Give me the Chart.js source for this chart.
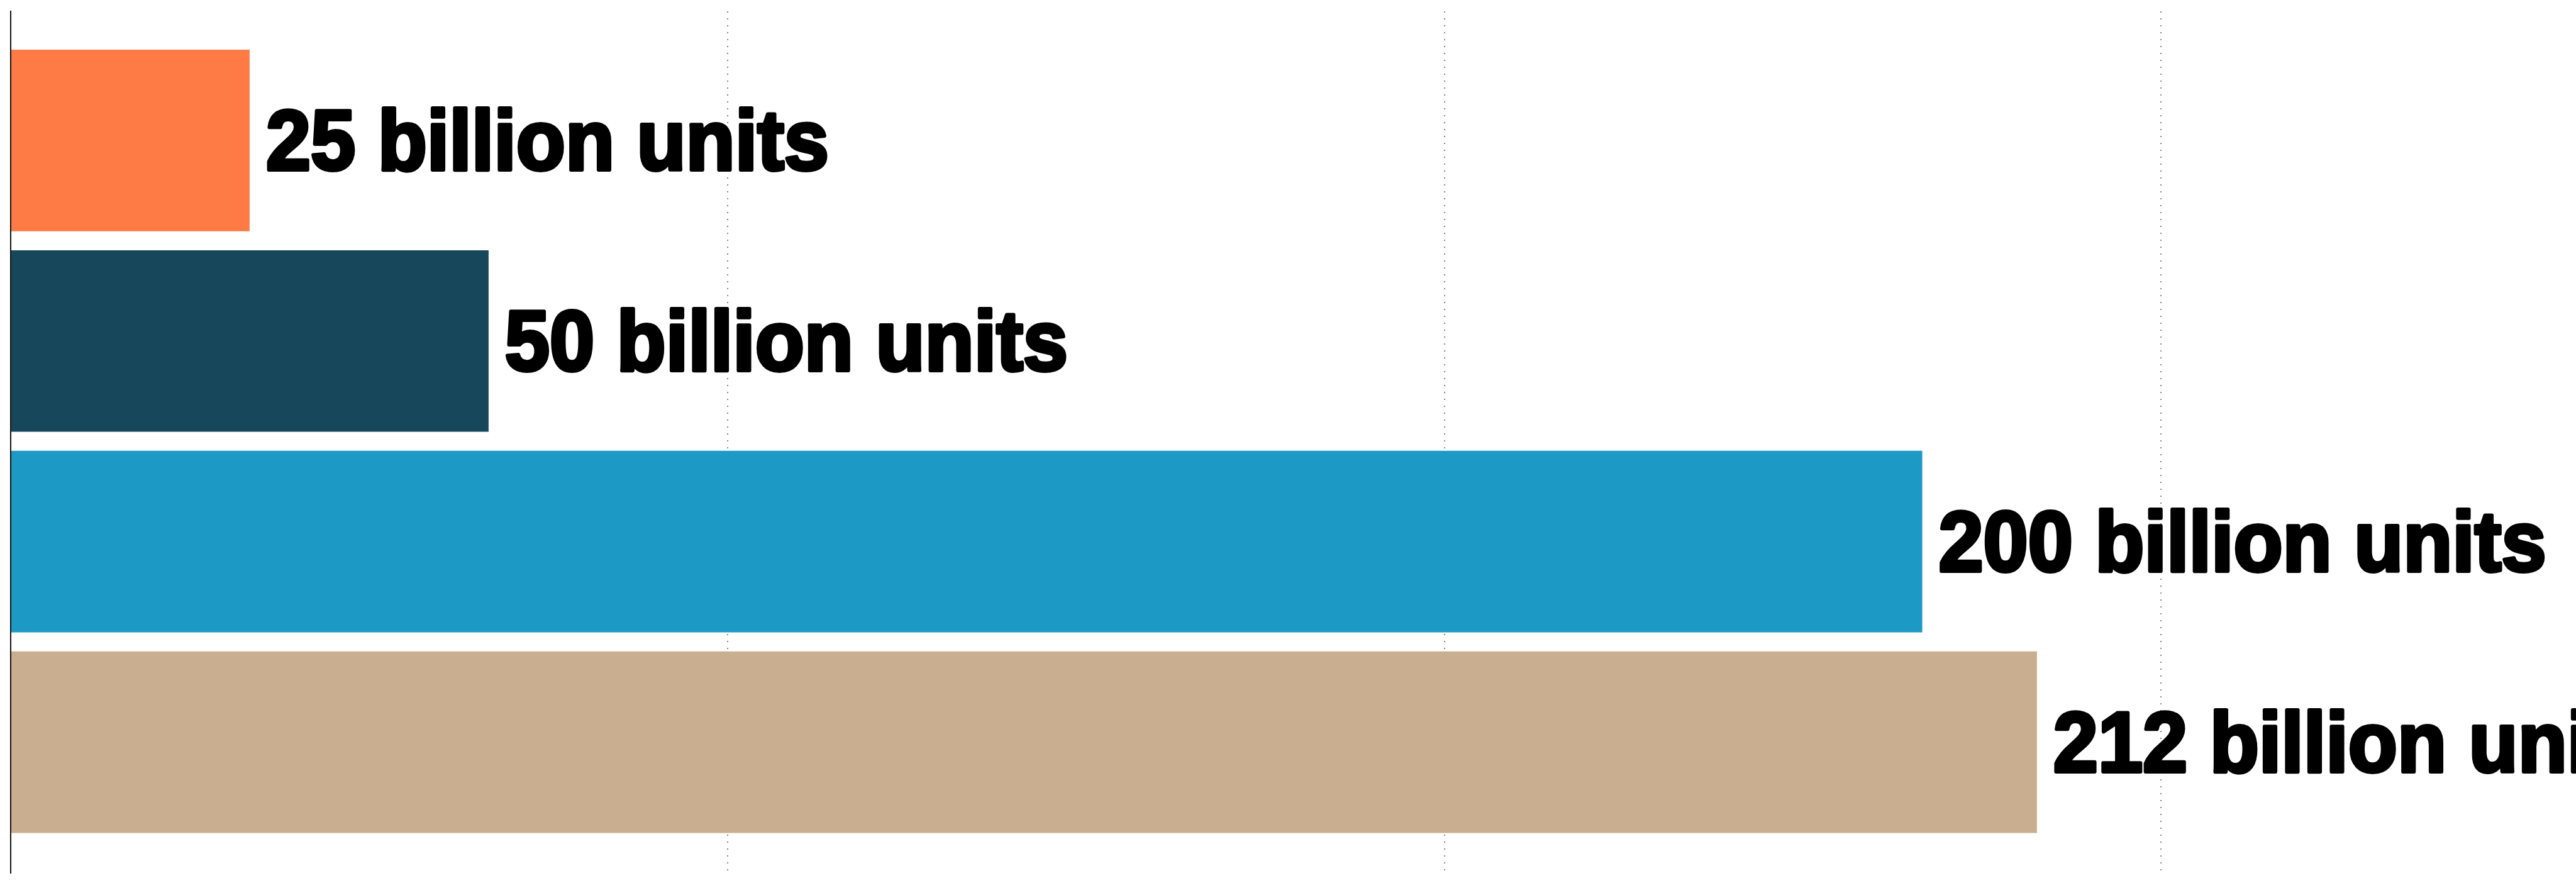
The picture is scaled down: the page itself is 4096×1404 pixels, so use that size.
<!DOCTYPE html>
<html>
<head>
<meta charset="utf-8">
<title>Billion units</title>
<script src="https://cdn.jsdelivr.net/npm/chart.js@4/dist/chart.umd.min.js"></script>
<style>
  html, body { margin: 0; padding: 0; background: #ffffff; overflow: hidden; }
  #graficoUnidades { display: block; }
</style>
</head>
<body>
<canvas id="graficoUnidades" width="4096" height="1404"></canvas>
<script>
// Datos del gráfico: una barra por categoría, de arriba hacia abajo
const categorias = ['A', 'B', 'C', 'D'];
const valores = [25, 50, 200, 212];
const coloresBarras = ['#ff7b45', '#16475a', '#1c99c4', '#c9af8f'];
const marcasEjeX = [0, 75, 150, 225];
const unidad = 'billion units';

// Estilo de las etiquetas al final de cada barra
const estiloEtiqueta = {
  familia: '"Liberation Sans", Arial, sans-serif',
  tamano: 136,
  grosorTrazo: 6,
  escalaX: 0.94,
  separacion: 26
};

// Plugin que escribe "<valor> billion units" a la derecha de cada barra
const pluginEtiquetas = {
  id: 'etiquetasBarras',
  afterDatasetsDraw(chart) {
    const ctx = chart.ctx;
    const meta = chart.getDatasetMeta(0);
    ctx.save();
    ctx.font = `bold ${estiloEtiqueta.tamano}px ${estiloEtiqueta.familia}`;
    ctx.fillStyle = '#000000';
    ctx.strokeStyle = '#000000';
    ctx.lineWidth = estiloEtiqueta.grosorTrazo;
    ctx.lineJoin = 'round';
    ctx.textAlign = 'left';
    ctx.textBaseline = 'alphabetic';
    const alturaMayus = ctx.measureText('H').actualBoundingBoxAscent;

    meta.data.forEach((barra, i) => {
      const texto = `${valores[i]} ${unidad}`;
      const x = barra.x + estiloEtiqueta.separacion;
      const y = barra.y + alturaMayus / 2;
      ctx.save();
      ctx.translate(x, y);
      ctx.scale(estiloEtiqueta.escalaX, 1);
      ctx.strokeText(texto, 0, 0);
      ctx.fillText(texto, 0, 0);
      ctx.restore();
    });
    ctx.restore();
  }
};

const canvas = document.getElementById('graficoUnidades');

const config = {
  type: 'bar',
  data: {
    datasets: [{
      data: valores.map((v, i) => ({ x: v, y: i })),
      backgroundColor: coloresBarras,
      borderWidth: 0,
      categoryPercentage: 1,
      barPercentage: 0.905
    }]
  },
  options: {
    indexAxis: 'y',
    responsive: false,
    devicePixelRatio: 1,
    animation: false,
    events: [],
    layout: {
      padding: { top: 18, bottom: 16, left: 17, right: 0 }
    },
    plugins: {
      legend: { display: false },
      tooltip: { enabled: false }
    },
    scales: {
      x: {
        type: 'linear',
        position: 'bottom',
        min: 0,
        max: 268.4,
        afterBuildTicks: (eje) => {
          eje.ticks = marcasEjeX.map(v => ({ value: v }));
        },
        ticks: { display: false },
        grid: {
          drawTicks: false,
          lineWidth: 2,
          // la línea en 0 la dibuja el eje vertical
          color: (c) => (c.tick && c.tick.value === 0) ? 'rgba(0,0,0,0)' : '#858585'
        },
        border: { display: false, dash: [2, 9] }
      },
      y: {
        type: 'linear',
        position: 'left',
        reverse: true,
        offset: false,
        min: -0.644,
        max: 3.652,
        afterBuildTicks: (eje) => {
          eje.ticks = categorias.map((_, i) => ({ value: i }));
        },
        ticks: { display: false },
        grid: { display: false, drawTicks: false },
        border: { display: true, color: '#111111', width: 2 }
      }
    }
  },
  plugins: [pluginEtiquetas]
};

const grafico = new Chart(canvas.getContext('2d'), config);
</script>
</body>
</html>
